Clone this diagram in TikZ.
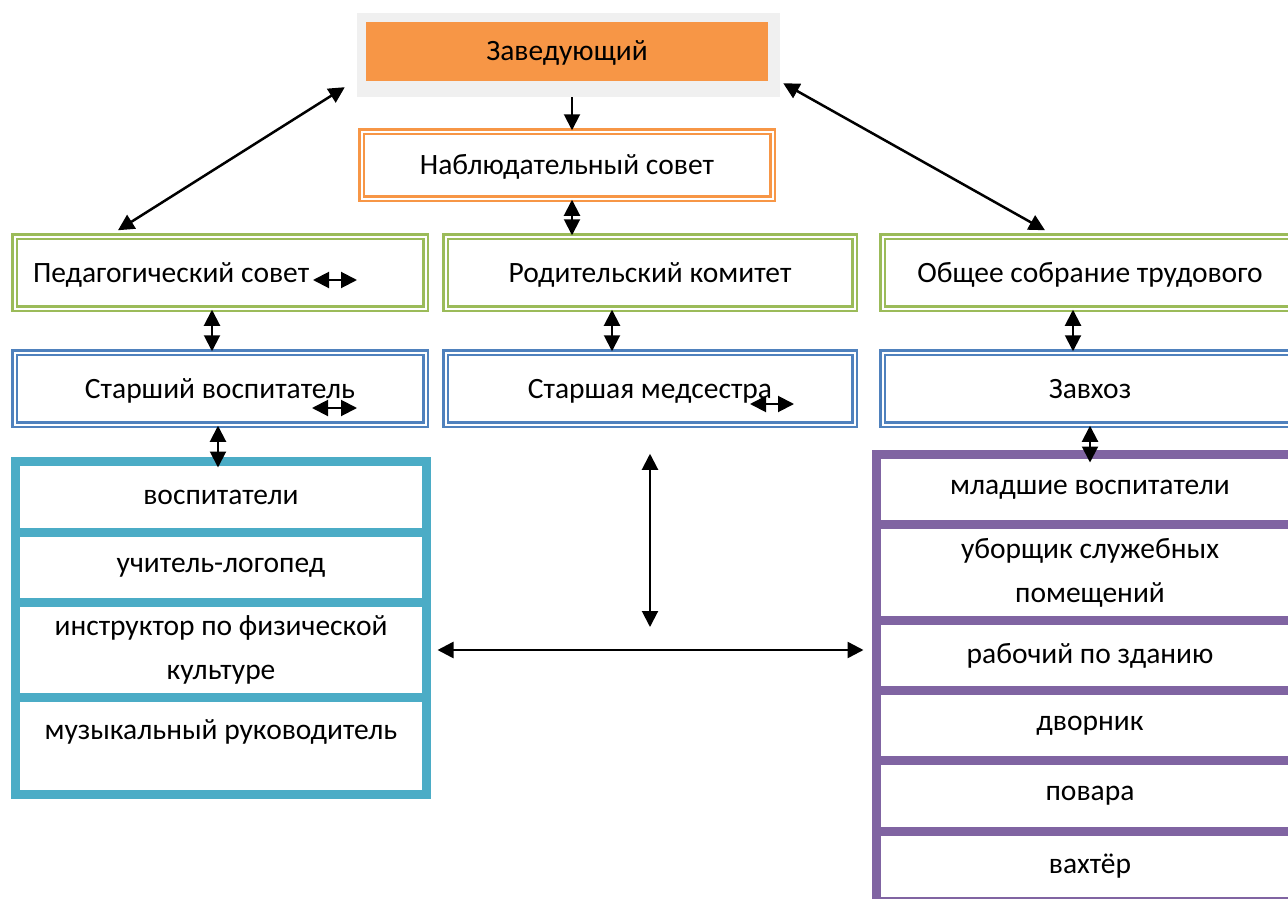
\documentclass[tikz,border=0pt]{standalone}
\usepackage{fontspec}
\setmainfont{Carlito}
\usetikzlibrary{arrows.meta}

\definecolor{headgray}{HTML}{F0F0F0}
\definecolor{zavorange}{HTML}{F79646}
\definecolor{sovgreen}{HTML}{9BBB59}
\definecolor{stblue}{HTML}{4F81BD}
\definecolor{pedteal}{HTML}{4BACC6}
\definecolor{hozpurple}{HTML}{8064A2}

\tikzset{
  dblbox/.style={draw=#1, line width=2.5pt, double=white, double distance=2pt,
    minimum width=411pt, minimum height=72pt, inner sep=0pt, text height=24pt, text depth=5pt},
  cell/.style={draw=#1, line width=9pt, outer sep=0pt, inner sep=0pt, align=center},
  duo/.style={<->, line width=2pt},
}

\begin{document}
\begin{tikzpicture}[x=1pt, y=-1pt, font=\fontsize{29.5}{44}\selectfont,
  >={Triangle[length=16pt,width=16pt]}]

  \useasboundingbox (0,0) rectangle (1288,899);
  \clip (0,0) rectangle (1288,899);

  % head of the chart
  \node[fill=headgray, minimum width=423pt, minimum height=84pt] (head) at (568.5,55) {};
  \node[fill=zavorange, minimum width=402pt, minimum height=59pt, inner sep=0pt,
    text height=24pt, text depth=6pt] (zav) at (567,51.5) {Заведующий};
  \node[dblbox=zavorange, minimum height=67pt] (nabl) at (567,165) {Наблюдательный совет};

  % councils
  \node[dblbox=sovgreen, text width=374pt, inner xsep=18.5pt, align=flush left] (ped) at (220,272.5) {Педагогический совет};
  \node[dblbox=sovgreen, minimum width=409pt] (rod) at (650,272.5) {Родительский комитет};
  \node[dblbox=sovgreen, minimum width=415pt] (obsh) at (1090,272.5) {Общее собрание трудового};

  % seniors
  \node[dblbox=stblue] (stv) at (220,388.5) {Старший воспитатель};
  \node[dblbox=stblue, minimum width=409pt] (med) at (650,388.5) {Старшая медсестра};
  \node[dblbox=stblue, minimum width=415pt] (zavh) at (1090,388.5) {Завхоз};

  % staff lists
  \foreach [count=\n] \y/\h/\txt in {497/71/воспитатели, 567.5/70/учитель-логопед,
      650/95/{инструктор по физической\\культуре}, 746/97/{музыкальный руководитель\\[-24pt]\strut}} {
    \node[cell=pedteal, minimum width=411pt, minimum height=\h] (l\n) at (221,\y) {\txt};
  };
  \foreach [count=\n] \y/\h/\txt in {489.5/70/младшие воспитатели, 572.5/96/{уборщик служебных\\помещений},
      655.5/70/рабочий по зданию, 725.5/70/дворник, 796/71/повара, 866.5/70/вахтёр} {
    \node[cell=hozpurple, minimum width=427pt, minimum height=\h] (r\n) at (1090,\y) {\txt};
  };

  % links
  \draw[->, line width=2pt] ([xshift=3.5pt]head.south) -- ([xshift=5pt]nabl.north);
  \draw[duo] ([xshift=5pt]nabl.south) -- ([xshift=-78pt]rod.north);
  \draw[duo] ([xshift=-8pt]ped.south) -- ([xshift=-8pt]stv.north);
  \draw[duo] ([xshift=-38pt]rod.south) -- ([xshift=-38pt]med.north);
  \draw[duo] ([xshift=-17pt]obsh.south) -- ([xshift=-17pt]zavh.north);
  \draw[duo] ([xshift=-2pt]stv.south) -- ([xshift=-3pt,yshift=-6pt]l1.north);
  \draw[duo] (zavh.south) -- ([yshift=-8pt]r1.north);
  \draw[duo, line width=2.5pt] ([xshift=-102pt,yshift=5pt]ped.north) -- ([xshift=-12pt,yshift=10pt]head.south west);
  \draw[duo, line width=2.5pt] ([xshift=3pt,yshift=14pt]head.south east) -- ([xshift=-45pt,yshift=5pt]obsh.north);

  \coordinate (hub) at (l3.east -| med.south);
  \draw[duo, line width=2.5pt] ([xshift=11pt]l3.east) -- ([xshift=-13pt]l3.east -| r3.west);
  \draw[duo] ([yshift=-28pt]med.south) -- ([yshift=23pt]hub);

  % stray arrows
  \draw[duo] ([shift={(93,7.5)}]ped.center) -- ++(44,0);
  \draw[duo] ([shift={(92,19.5)}]stv.center) -- ++(45,0);
  \draw[duo] ([shift={(100,15.5)}]med.center) -- ++(44,0);

\end{tikzpicture}
\end{document}
